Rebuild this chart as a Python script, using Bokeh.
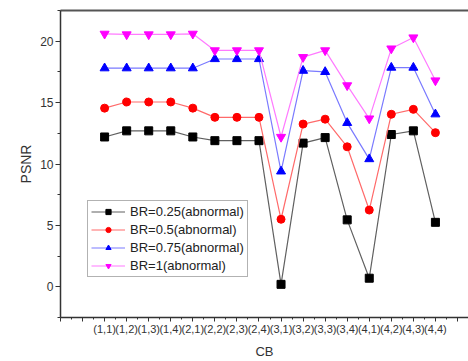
from bokeh.plotting import figure
from bokeh.models import FixedTicker, LinearAxis, Range1d, Legend, LegendItem
from bokeh.embed import file_html
from bokeh.resources import INLINE

labels = ["(1,1)", "(1,2)", "(1,3)", "(1,4)", "(2,1)", "(2,2)", "(2,3)", "(2,4)",
          "(3,1)", "(3,2)", "(3,3)", "(3,4)", "(4,1)", "(4,2)", "(4,3)", "(4,4)"]
xpos = list(range(1, 17))
br025 = [12.2, 12.7, 12.7, 12.7, 12.2, 11.9, 11.9, 11.9, 0.2, 11.7, 12.15, 5.45, 0.7, 12.4, 12.7, 5.25]
br05 = [14.55, 15.05, 15.05, 15.05, 14.55, 13.8, 13.8, 13.8, 5.5, 13.25, 13.65, 11.4, 6.25, 14.05, 14.45, 12.55]
br075 = [17.8, 17.8, 17.8, 17.8, 17.8, 18.55, 18.55, 18.55, 9.4, 17.6, 17.5, 13.35, 10.4, 17.85, 17.85, 14.05]
br1 = [20.6, 20.55, 20.55, 20.55, 20.6, 19.25, 19.25, 19.25, 12.2, 18.7, 19.25, 16.4, 13.7, 19.4, 20.3, 16.8]
series_names = ["BR=0.25(abnormal)", "BR=0.5(abnormal)", "BR=0.75(abnormal)", "BR=1(abnormal)"]

FONT = "Liberation Sans"

p = figure(width=468, height=361, output_backend="svg", toolbar_location=None,
           x_range=Range1d(-1, 17.5), y_range=Range1d(-2.5, 22.5),
           min_border_left=60, min_border_right=0, min_border_top=10, min_border_bottom=44)
p.outline_line_color = None
p.xgrid.visible = False
p.ygrid.visible = False
p.background_fill_color = "white"
p.border_fill_color = "white"

styles = [
    (br025, "#606060", "black", "square", 8),
    (br05, "#ff6a6a", "red", "circle", 8),
    (br075, "#7a7aff", "blue", "triangle", 9),
    (br1, "#ff7aff", "magenta", "inverted_triangle", 9),
]
items = []
for (ys, lc, mc, mk, sz), name in zip(styles, series_names):
    r1 = p.line(xpos, ys, line_color=lc, line_width=1.2)
    r2 = p.scatter(xpos, ys, marker=mk, size=sz, fill_color=mc, line_color=mc)
    items.append(LegendItem(label=name, renderers=[r1, r2]))

legend = Legend(items=items, location=(27, 40))
legend.label_text_font = FONT
legend.label_text_font_size = "13px"
legend.label_text_color = "#222222"
legend.glyph_width = 34
legend.glyph_height = 13
legend.label_height = 13
legend.label_standoff = 5
legend.spacing = 3
legend.padding = 3
legend.margin = 0
legend.border_line_color = "#666666"
legend.border_line_width = 1
legend.background_fill_alpha = 1
p.add_layout(legend, "center")

# x axis
xa = p.xaxis[0]
xa.ticker = FixedTicker(ticks=list(range(-1, 18)), minor_ticks=[i + 0.5 for i in range(-1, 17)])
overrides = {i: "" for i in range(-1, 18)}
for i, lab in zip(xpos, labels):
    overrides[i] = lab
xa.major_label_overrides = overrides
xa.major_label_text_font = FONT
xa.major_label_text_font_size = "11px"
xa.major_label_text_color = "#333333"
xa.major_label_standoff = 1
xa.axis_label = "CB"
xa.axis_label_text_font = FONT
xa.axis_label_text_font_style = "normal"
xa.axis_label_text_font_size = "13px"
xa.axis_label_text_color = "#333333"
xa.axis_label_standoff = 6
xa.axis_line_color = "#333333"
xa.axis_line_width = 1.5
xa.major_tick_in = 0
xa.major_tick_out = 4
xa.minor_tick_in = 0
xa.minor_tick_out = 2
xa.major_tick_line_color = "#333333"
xa.minor_tick_line_color = "#333333"

# y axis
ya = p.yaxis[0]
ya.ticker = FixedTicker(ticks=[0, 5, 10, 15, 20], minor_ticks=[-2.5, 2.5, 7.5, 12.5, 17.5, 22.5])
ya.major_label_text_font = FONT
ya.major_label_text_font_size = "12px"
ya.major_label_text_color = "#333333"
ya.major_label_standoff = 2
ya.axis_label = "PSNR"
ya.axis_label_text_font = FONT
ya.axis_label_text_font_style = "normal"
ya.axis_label_text_font_size = "14px"
ya.axis_label_text_color = "#333333"
ya.axis_label_standoff = 3
ya.axis_line_color = "#333333"
ya.axis_line_width = 1.5
ya.major_tick_in = 0
ya.major_tick_out = 5
ya.minor_tick_in = 0
ya.minor_tick_out = 3
ya.major_tick_line_color = "#333333"
ya.minor_tick_line_color = "#333333"

# top border line
top = LinearAxis(ticker=FixedTicker(ticks=[]), axis_line_color="#555555", axis_line_width=2,
                 major_tick_line_color=None, minor_tick_line_color=None,
                 major_label_text_font_size="0px")
p.add_layout(top, "above")

open("out.html", "w").write(file_html(p, INLINE))
